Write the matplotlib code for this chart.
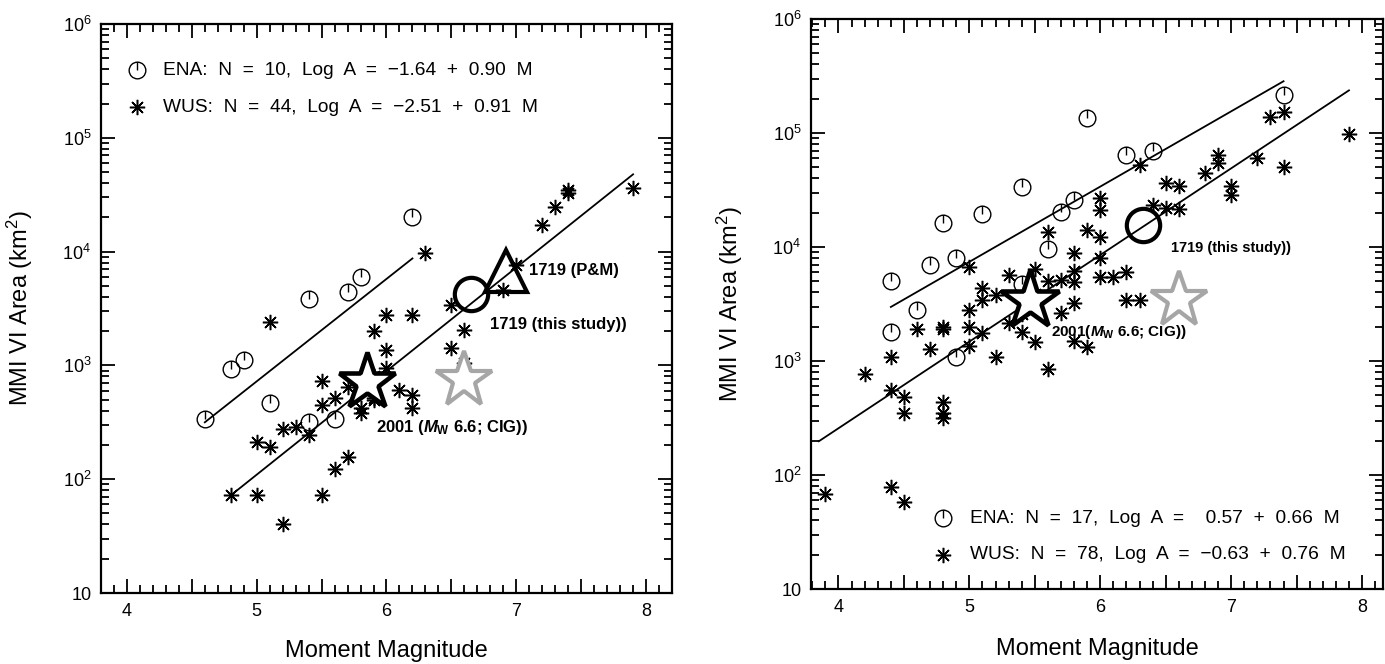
import numpy as np
import matplotlib
matplotlib.use("Agg")
import matplotlib.pyplot as plt
from matplotlib.path import Path
from matplotlib.ticker import FixedLocator, FixedFormatter, MultipleLocator, FuncFormatter, LogLocator, NullFormatter

plt.rcParams['font.family'] = ['Liberation Sans', 'DejaVu Sans']
plt.rcParams['mathtext.fontset'] = 'custom'
plt.rcParams['mathtext.rm'] = 'Liberation Sans'
plt.rcParams['mathtext.it'] = 'Liberation Sans:italic:bold'
plt.rcParams['mathtext.bf'] = 'Liberation Sans:bold'

# ---------------- data ----------------
y_tick_values = [10, 1e2, 1e3, 1e4, 1e5, 1e6]
y_tick_labels = ['10', '$10^2$', '$10^3$', '$10^4$', '$10^5$', '$10^6$']

# Left panel
ena_left_m = [4.6, 4.8, 4.9, 5.1, 5.4, 5.4, 5.6, 5.7, 5.8, 6.2]
ena_left_a = [336, 925, 1110, 465, 3810, 316, 336, 4450, 6010, 20300]
wus_left_m = [4.8, 5.0, 5.0, 5.1, 5.1, 5.2, 5.2, 5.3, 5.4, 5.5, 5.5, 5.5, 5.6, 5.6,
              5.7, 5.7, 5.8, 5.8, 5.8, 5.9, 5.9, 5.9, 6.0, 6.0, 6.0, 6.1, 6.2, 6.2,
              6.2, 6.3, 6.5, 6.5, 6.6, 6.6, 6.9, 7.0, 7.2, 7.3, 7.4, 7.4, 7.9, 5.9]
wus_left_a = [73, 73, 214, 193, 2400, 274, 40, 286, 245, 735, 449, 73, 514, 122,
              650, 158, 380, 420, 700, 497, 2020, 514, 2770, 1365, 950, 608, 2770, 550,
              420, 9660, 3400, 1410, 2050, 1040, 4600, 7630, 17100, 24800, 32500, 35000, 36000, 800]
ena_left_fit = [-1.64, 0.90]
ena_left_range = [4.6, 6.2]
wus_left_fit = [-2.51, 0.91]
wus_left_range = [4.8, 7.9]
star2001_left = [5.85, 720]
star_cig_left = [6.6, 740]
circ1719_left = [6.65, 4200]
tri1719_left = [6.92, 6800]

# Right panel
ena_right_m = [4.4, 4.4, 4.6, 4.7, 4.8, 4.9, 4.9, 5.1, 5.4, 5.4, 5.6, 5.7, 5.8, 5.9, 6.2, 6.4, 7.4]
ena_right_a = [5000, 1800, 2800, 6950, 16100, 7960, 1075, 19500, 33800, 4730, 9550, 20400,
               25800, 134500, 64100, 70000, 215000]
wus_right_m = [3.9, 4.2, 4.4, 4.4, 4.4, 4.5, 4.5, 4.5, 4.6, 4.7, 4.8, 4.8, 4.8, 4.8, 4.8,
               5.0, 5.0, 5.0, 5.0, 5.1, 5.1, 5.1, 5.2, 5.2, 5.3, 5.3, 5.4, 5.5, 5.5, 5.6,
               5.6, 5.6, 5.7, 5.7, 5.8, 5.8, 5.8, 5.8, 5.8, 5.9, 5.9, 6.0, 6.0, 6.0, 6.0,
               6.0, 6.1, 6.2, 6.2, 6.3, 6.3, 6.4, 6.5, 6.5, 6.6, 6.6, 6.8, 6.9, 6.9, 7.0,
               7.0, 7.2, 7.3, 7.4, 7.4, 7.9, 5.4, 5.5]
wus_right_a = [68, 770, 1090, 557, 78, 480, 347, 58, 1900, 1270, 1900, 2000, 440, 347, 314,
               6720, 2800, 2000, 1355, 4350, 3430, 1750, 3790, 1075, 5680, 2170, 1810, 6370, 1475, 5060,
               845, 13600, 5140, 2620, 8910, 6190, 4970, 3200, 1510, 14100, 1320, 26700, 21100, 12300, 7960,
               5500, 5420, 6070, 3430, 3430, 52400, 23300, 36600, 21800, 34300, 21400, 44900, 64100, 54200, 34300,
               28600, 60000, 137000, 154000, 50600, 98000, 2600, 3900]
ena_right_fit = [0.57, 0.66]
ena_right_range = [4.4, 7.4]
wus_right_fit = [-0.63, 0.76]
wus_right_range = [3.85, 7.9]
star2001_right = [5.46, 3450]
star_cig_right = [6.6, 3400]
circ1719_right = [6.33, 15500]

ena_legend_left = 'ENA:  N  =  10,  Log  A  =  \u22121.64  +  0.90  M'
wus_legend_left = 'WUS:  N  =  44,  Log  A  =  \u22122.51  +  0.91  M'
ena_legend_right = 'ENA:  N  =  17,  Log  A  =    0.57  +  0.66  M'
wus_legend_right = 'WUS:  N  =  78,  Log  A  =  \u22120.63  +  0.76  M'

# ---------------- styles ----------------
ena_marker = Path.make_compound_path(
    Path.unit_circle(),
    Path([[0, 0], [0, 1]], [Path.MOVETO, Path.LINETO]))
wus_marker = (8, 2, 0)
GRAY = '#a6a6a6'
LEG_FS = 13.8

fig = plt.figure(figsize=(13.85, 6.64), dpi=100)
axL = fig.add_axes([101/1385, 1-593/664, 571/1385, 569/664])
axR = fig.add_axes([811/1385, 1-589/664, 572/1385, 570/664])


def style_axes(ax, xlim):
    ax.set_yscale('log')
    ax.set_xlim(*xlim)
    ax.set_ylim(10, 1e6)
    ax.xaxis.set_major_locator(MultipleLocator(0.5))
    ax.xaxis.set_minor_locator(MultipleLocator(0.1))
    ax.xaxis.set_major_formatter(FuncFormatter(
        lambda v, p: f'{v:.0f}' if abs(v - round(v)) < 1e-6 else ''))
    ax.yaxis.set_major_locator(FixedLocator(y_tick_values))
    ax.yaxis.set_major_formatter(FixedFormatter(y_tick_labels))
    ax.yaxis.set_minor_locator(LogLocator(base=10, subs=np.arange(2, 10)))
    ax.yaxis.set_minor_formatter(NullFormatter())
    ax.tick_params(which='both', direction='in', top=True, right=True, width=1.3, color='black')
    ax.tick_params(which='major', length=10, labelsize=13, pad=7)
    ax.tick_params(which='minor', length=5.5)
    for s in ax.spines.values():
        s.set_linewidth(1.6)
    ax.set_xlabel('Moment Magnitude', fontsize=17)
    ax.set_ylabel('MMI VI Area (km$^2$)', fontsize=17)


def fit_line(ax, coef, rng):
    m = np.array(rng)
    ax.plot(m, 10 ** (coef[0] + coef[1] * m), color='black', lw=1.3, zorder=2)


# ---------- left ----------
ax = axL
style_axes(ax, (3.8, 8.2))
fit_line(ax, ena_left_fit, ena_left_range)
fit_line(ax, wus_left_fit, wus_left_range)
ax.plot(ena_left_m, ena_left_a, ls='none', marker=ena_marker, ms=12, mfc='none', mec='black', mew=1.0, zorder=3)
ax.plot(wus_left_m, wus_left_a, ls='none', marker=wus_marker, ms=11, color='black', mew=1.1, zorder=3)
ax.plot(*star_cig_left, marker='*', ms=42, mfc='white', mec=GRAY, mew=3, zorder=4)
ax.plot(*star2001_left, marker='*', ms=43, mfc='white', mec='black', mew=3.3, zorder=5)
ax.plot(*circ1719_left, marker='o', ms=24, mfc='none', mec='black', mew=3, zorder=5)
ax.plot(*tri1719_left, marker='^', ms=30, mfc='none', mec='black', mew=3, zorder=5)
ax.text(7.10, 6890, '1719 (P&M)', fontsize=12, fontweight='bold', va='center', ha='left')
ax.text(6.80, 2265, '1719 (this study))', fontsize=12, fontweight='bold', va='center', ha='left')
ax.text(5.92, 282, '2001 ($M_\\mathbf{W}$ 6.6; CIG))', fontsize=12, fontweight='bold', va='center', ha='left')
ax.plot(0.0625, 0.919, transform=ax.transAxes, marker=ena_marker, ms=12, mfc='none', mec='black', mew=1.0)
ax.plot(0.0625, 0.8536, transform=ax.transAxes, marker=wus_marker, ms=11, color='black', mew=1.1)
ax.text(0.109, 0.919, ena_legend_left, transform=ax.transAxes, fontsize=LEG_FS, va='center', ha='left')
ax.text(0.109, 0.8536, wus_legend_left, transform=ax.transAxes, fontsize=LEG_FS, va='center', ha='left')
ax.yaxis.set_label_coords(-0.115, 0.5)
ax.xaxis.set_label_coords(0.5, -0.082)

# ---------- right ----------
ax = axR
style_axes(ax, (3.79, 8.16))
fit_line(ax, ena_right_fit, ena_right_range)
fit_line(ax, wus_right_fit, wus_right_range)
ax.plot(ena_right_m, ena_right_a, ls='none', marker=ena_marker, ms=12, mfc='none', mec='black', mew=1.0, zorder=3)
ax.plot(wus_right_m, wus_right_a, ls='none', marker=wus_marker, ms=11, color='black', mew=1.1, zorder=3)
ax.plot(*star_cig_right, marker='*', ms=42, mfc='white', mec=GRAY, mew=3, zorder=4)
ax.plot(*star2001_right, marker='*', ms=44, mfc='white', mec='black', mew=3.3, zorder=5)
ax.plot(*circ1719_right, marker='o', ms=24, mfc='none', mec='black', mew=3, zorder=5)
ax.text(6.54, 9860, '1719 (this study))', fontsize=10.5, fontweight='bold', va='center', ha='left')
ax.text(5.626, 1807, '2001($M_\\mathbf{W}$ 6.6; CIG))', fontsize=11, fontweight='bold', va='center', ha='left')
ax.plot(0.231, 0.124, transform=ax.transAxes, marker=ena_marker, ms=12, mfc='none', mec='black', mew=1.0)
ax.plot(0.231, 0.06, transform=ax.transAxes, marker=wus_marker, ms=11, color='black', mew=1.1)
ax.text(0.278, 0.124, ena_legend_right, transform=ax.transAxes, fontsize=LEG_FS, va='center', ha='left')
ax.text(0.278, 0.06, wus_legend_right, transform=ax.transAxes, fontsize=LEG_FS, va='center', ha='left')
ax.yaxis.set_label_coords(-0.115, 0.5)
ax.xaxis.set_label_coords(0.5, -0.086)

fig.savefig('out.png', dpi=100)
